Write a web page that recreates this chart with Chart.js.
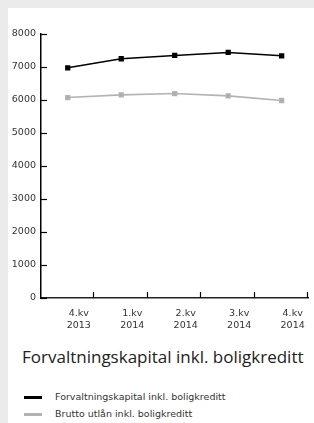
<!DOCTYPE html>
<html>
<head>
<meta charset="utf-8">
<script src="https://cdn.jsdelivr.net/npm/chart.js@4"></script>
<style>
  body { margin:0; background:#ebebeb; width:314px; height:423px; overflow:hidden; font-family:"DejaVu Sans", sans-serif; }
  #panel { position:absolute; left:8px; top:8px; width:306px; height:415px; background:#fff; }
  #chartBox { position:absolute; left:0; top:0; width:306px; height:335px; }
  #title { position:absolute; left:14px; top:337px; font-family:"Open Sans", sans-serif; font-size:17px; color:#222; white-space:nowrap; }
  .legendRow { position:absolute; left:16px; font-size:9.5px; color:#333; white-space:nowrap; }
  .legendRow span.swatch { position:absolute; left:0; top:5px; width:18px; height:3px; }
  .legendRow span.text { position:absolute; left:31px; top:0; }
</style>
</head>
<body>
<div id="panel">
  <div id="chartBox"><canvas id="myChart"></canvas></div>
  <div id="title">Forvaltningskapital inkl. boligkreditt</div>
  <div id="legend"></div>
</div>
<script>
let quarters = [['4.kv', '2013'], ['1.kv', '2014'], ['2.kv', '2014'], ['3.kv', '2014'], ['4.kv', '2014']];
let forvaltning = [6975, 7250, 7350, 7440, 7340];
let brutto = [6075, 6155, 6195, 6125, 5985];
let seriesNames = ['Forvaltningskapital inkl. boligkreditt', 'Brutto utlån inkl. boligkreditt'];
let seriesColors = ['#000000', '#aaaaaa'];
let yTicks = [0, 1000, 2000, 3000, 4000, 5000, 6000, 7000, 8000];

document.addEventListener('DOMContentLoaded', registerEvents);

function registerEvents(){
    createChart();
    createLegend();
}

// small inward tick marks on both axes
let innerTicks = {
    id: 'innerTicks',
    afterDraw(chart){
        let ctx = chart.ctx;
        let area = chart.chartArea;
        let xs = chart.scales.x;
        let ys = chart.scales.y;
        ctx.save();
        ctx.strokeStyle = '#000';
        ctx.lineWidth = 1.2;
        yTicks.forEach(v => {
            let y = Math.round(ys.getPixelForValue(v)) + 0.5;
            ctx.beginPath();
            ctx.moveTo(area.left, y);
            ctx.lineTo(area.left + 6, y);
            ctx.stroke();
        });
        let n = quarters.length;
        for(let i = 1; i <= n; i++){
            let x = Math.round(xs.left + i * xs.width / n) - 0.5;
            ctx.beginPath();
            ctx.moveTo(x, area.bottom);
            ctx.lineTo(x, area.bottom - 6);
            ctx.stroke();
        }
        ctx.restore();
    }
};

function createChart(){
    let ctx = document.getElementById('myChart');
    let data = {
        labels: quarters,
        datasets: [
            {
                label: seriesNames[0],
                data: forvaltning,
                borderColor: seriesColors[0],
                backgroundColor: seriesColors[0],
                borderWidth: 1.6,
                pointStyle: 'rect',
                pointRadius: 2.6,
                tension: 0
            },
            {
                label: seriesNames[1],
                data: brutto,
                borderColor: '#b3b3b3',
                backgroundColor: seriesColors[1],
                borderWidth: 1.6,
                pointStyle: 'rect',
                pointRadius: 2.6,
                tension: 0
            }
        ]
    };
    let config = {
        type: 'line',
        data: data,
        plugins: [innerTicks],
        options: {
            animation: false,
            responsive: true,
            maintainAspectRatio: false,
            layout: { padding: { top: 26, right: 3, left: 0, bottom: 0 } },
            plugins: {
                legend: { display: false },
                tooltip: { enabled: false },
                title: { display: false }
            },
            scales: {
                x: {
                    offset: true,
                    grid: { display: true, drawOnChartArea: false, drawTicks: false, offset: true },
                    border: { display: true, color: '#222', width: 1.5 },
                    ticks: {
                        color: '#333',
                        font: { family: 'DejaVu Sans', size: 9.5 },
                        padding: 10,
                        labelOffset: 11,
                        maxRotation: 0,
                        autoSkip: false
                    },
                    afterFit(scale){ scale.height = 45; }
                },
                y: {
                    min: 0,
                    max: 8000,
                    grid: { display: true, drawOnChartArea: false, drawTicks: false },
                    border: { display: true, color: '#000', width: 1.5 },
                    ticks: {
                        stepSize: 1000,
                        color: '#333',
                        font: { family: 'DejaVu Sans', size: 9.5 },
                        padding: 5,
                        callback: v => String(v)
                    },
                    afterFit(scale){ scale.width = 33; }
                }
            }
        }
    };
    new Chart(ctx, config);
}

function createLegend(){
    let legend = document.getElementById('legend');
    for(let i = 0; i < seriesNames.length; i++){
        let row = document.createElement('div');
        row.setAttribute('class', 'legendRow');
        row.style.top = (383 + i * 17) + 'px';
        let swatch = document.createElement('span');
        swatch.setAttribute('class', 'swatch');
        swatch.style.background = i === 0 ? '#000' : '#b3b3b3';
        let text = document.createElement('span');
        text.setAttribute('class', 'text');
        text.innerText = seriesNames[i];
        row.appendChild(swatch);
        row.appendChild(text);
        legend.appendChild(row);
    }
}
</script>
</body>
</html>
